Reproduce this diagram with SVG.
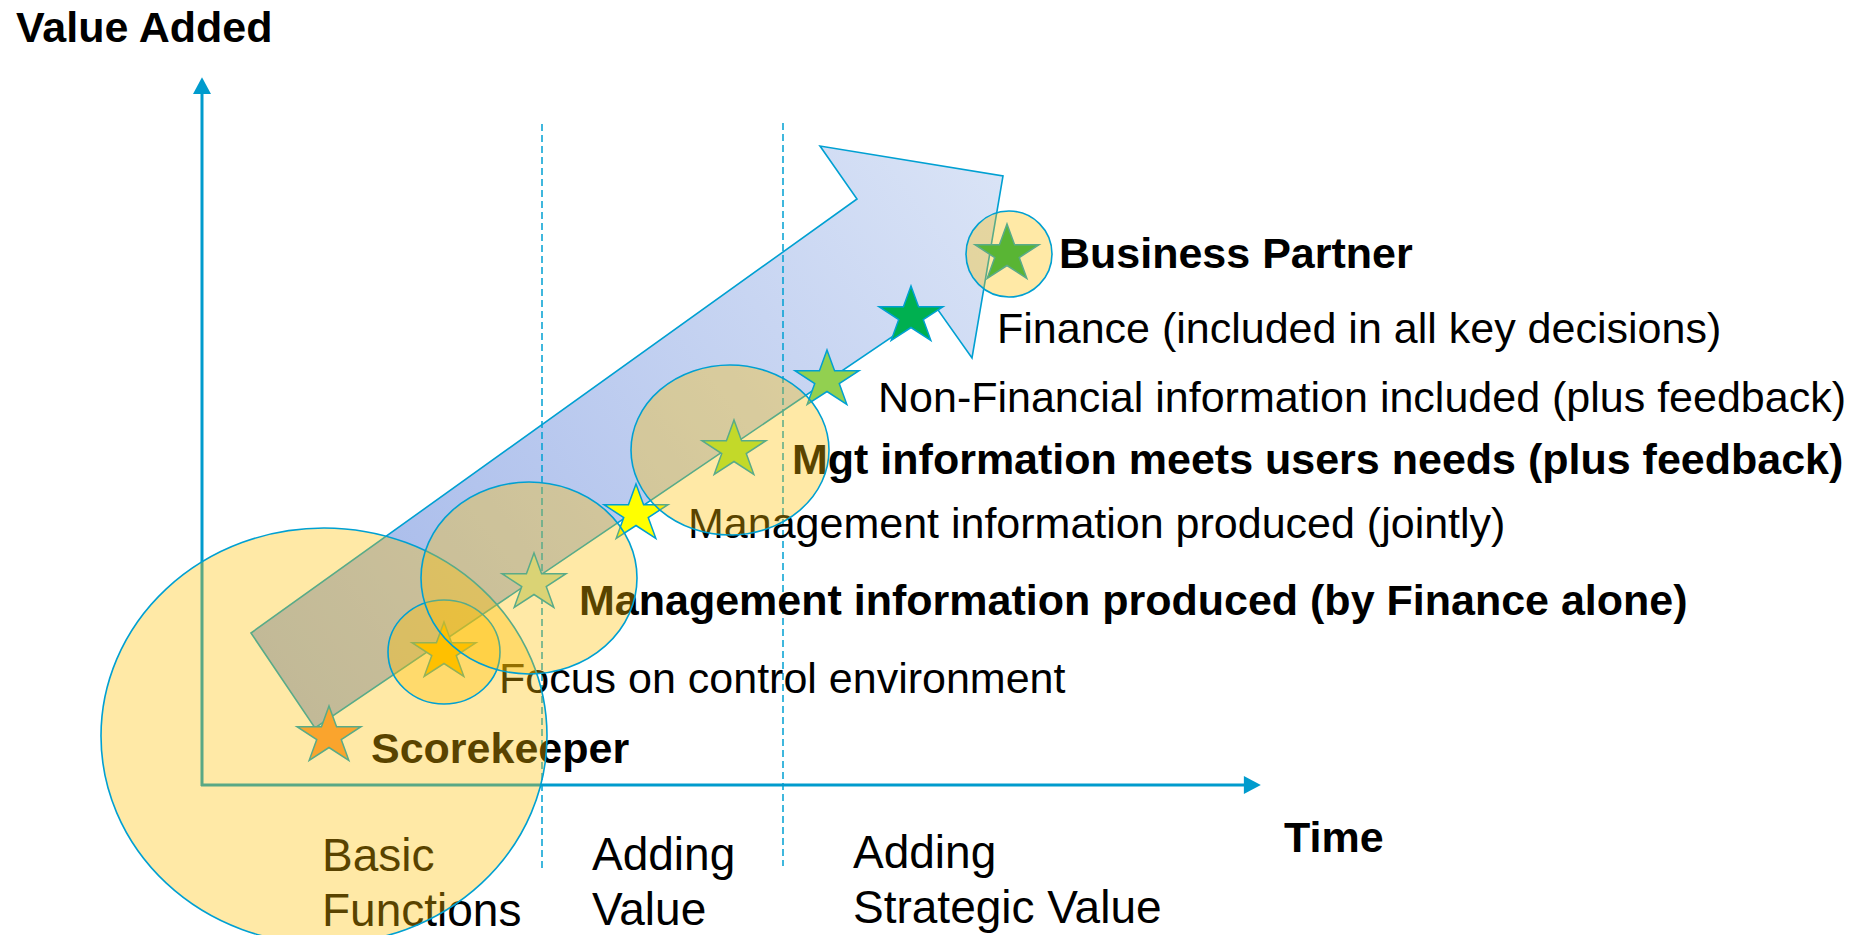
<svg xmlns="http://www.w3.org/2000/svg" width="1872" height="935" viewBox="0 0 1872 935">
  <style>
    .lbl { font-family: "Liberation Sans", Arial, sans-serif; font-size: 43px; fill: #000; }
    .phase { font-size: 46px; }
    .b { font-weight: bold; }
    .axis { stroke: #009BCD; stroke-width: 3; fill: none; }
    .divider { stroke: #00A0D2; stroke-width: 1.5; stroke-dasharray: 7 4; fill: none; }
    .star { stroke: #00A0D2; stroke-width: 1.5; stroke-linejoin: miter; }
    .stage { fill: #FFC000; fill-opacity: 0.35; stroke: #00A0D2; stroke-width: 1.6; }
  </style>
  <defs>
    <linearGradient id="arrowFill" gradientUnits="userSpaceOnUse" x1="300" y1="700" x2="1000" y2="180">
      <stop offset="0" stop-color="#A2B6E9"/>
      <stop offset="1" stop-color="#D9E3F6"/>
    </linearGradient>
    <marker id="axisHead" markerUnits="userSpaceOnUse" markerWidth="18" markerHeight="18" viewBox="0 0 16 17" refX="2" refY="8.5" orient="auto">
      <path d="M0,0 L16,8.5 L0,17 Z" fill="#009BCD"/>
    </marker>
    <path id="star5" d="M0,-30 L7.57,-9.3 L32,-9.3 L12.25,3.55 L19.8,24.3 L0,11.5 L-19.8,24.3 L-12.25,3.55 L-32,-9.3 L-7.57,-9.3 Z"/>
  </defs>

  <rect width="1872" height="935" fill="#FFFFFF"/>

  <!-- progression arrow -->
  <polygon id="progress-arrow" points="251,633 315,728 936,307 972,358 1003,176 820,146 857,199" fill="url(#arrowFill)" stroke="#00A0D2" stroke-width="1.6" stroke-linejoin="miter"/>

  <!-- connectors: axes and phase dividers -->
  <g id="connectors">
    <line class="divider" x1="542" y1="124" x2="542" y2="868"/>
    <line class="divider" x1="783" y1="123" x2="783" y2="866"/>
    <line class="axis" x1="202" y1="786" x2="202" y2="92" marker-end="url(#axisHead)"/>
    <line class="axis" x1="201" y1="785" x2="1246" y2="785" marker-end="url(#axisHead)"/>
  </g>

  <!-- axis titles and phase names -->
  <g id="axis-labels">
    <text class="lbl b" x="16" y="42">Value Added</text>
    <text class="lbl b" x="1284" y="852">Time</text>
    <text class="lbl phase" x="322" y="871">Basic</text>
    <text class="lbl phase" x="322" y="926">Functions</text>
    <text class="lbl phase" x="592" y="870">Adding</text>
    <text class="lbl phase" x="592" y="925">Value</text>
    <text class="lbl phase" x="853" y="868">Adding</text>
    <text class="lbl phase" x="853" y="923">Strategic Value</text>
  </g>

  <!-- milestones along the arrow -->
  <g id="scorekeeper">
    <use href="#star5" class="star" x="329" y="736" fill="#F79646"/>
    <text class="lbl b" x="371" y="763">Scorekeeper</text>
  </g>
  <g id="control-environment">
    <use href="#star5" class="star" x="444" y="652" fill="#FFC000"/>
    <text class="lbl" x="499" y="693">Focus on control environment</text>
  </g>
  <g id="mi-finance-alone">
    <use href="#star5" class="star" x="534" y="583" fill="#C6DDB4"/>
    <text class="lbl b" x="579" y="615">Management information produced (by Finance alone)</text>
  </g>
  <g id="mi-jointly">
    <use href="#star5" class="star" x="636" y="514" fill="#FFFF00"/>
    <text class="lbl" x="688" y="538">Management information produced (jointly)</text>
  </g>
  <g id="mi-meets-needs">
    <use href="#star5" class="star" x="734" y="450" fill="#A4E640"/>
    <text class="lbl b" x="792" y="474">Mgt information meets users needs (plus feedback)</text>
  </g>
  <g id="non-financial">
    <use href="#star5" class="star" x="827" y="380" fill="#92D050"/>
    <text class="lbl" x="878" y="412">Non-Financial information included (plus feedback)</text>
  </g>
  <g id="key-decisions">
    <use href="#star5" class="star" x="911" y="316" fill="#00B050"/>
    <text class="lbl" x="997" y="343">Finance (included in all key decisions)</text>
  </g>
  <g id="business-partner">
    <use href="#star5" class="star" x="1007" y="254" fill="#00B050"/>
    <text class="lbl b" x="1059" y="268">Business Partner</text>
  </g>

  <!-- translucent stage highlights -->
  <g id="stage-highlights">
    <ellipse id="stage-basic" class="stage" cx="324" cy="736" rx="223" ry="208"/>
    <ellipse id="stage-control" class="stage" cx="444" cy="652" rx="56" ry="52"/>
    <ellipse id="stage-mi" class="stage" cx="529" cy="578" rx="108" ry="96"/>
    <ellipse id="stage-needs" class="stage" cx="730" cy="450" rx="99" ry="85"/>
    <ellipse id="stage-partner" class="stage" cx="1009" cy="254" rx="43" ry="43"/>
  </g>
</svg>
